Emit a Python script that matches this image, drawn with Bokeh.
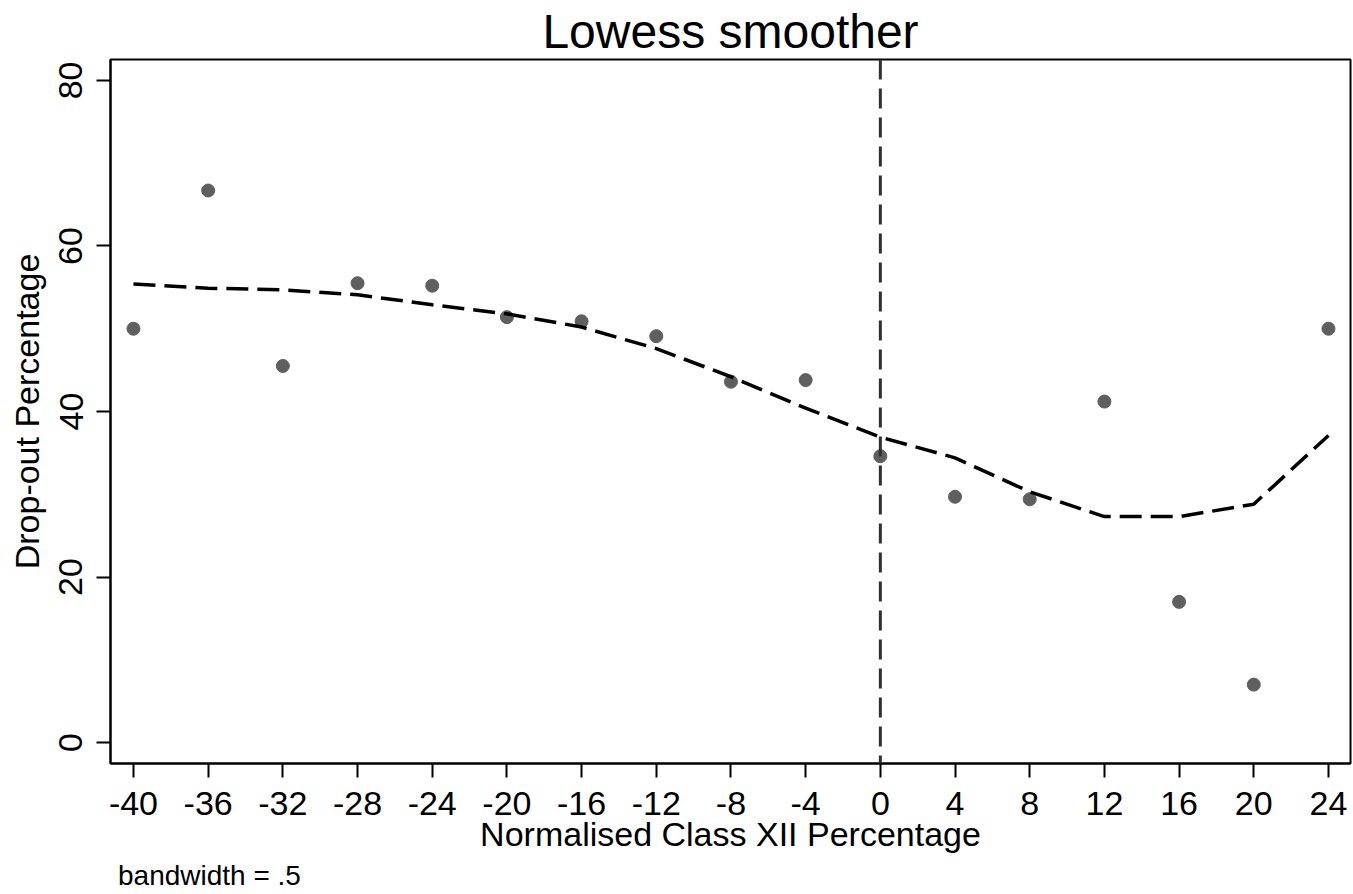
from bokeh.plotting import figure
from bokeh.layouts import column
from bokeh.models import Range1d, Span, Div, FixedTicker, CustomJSTickFormatter
from bokeh.embed import file_html
from bokeh.resources import INLINE

# Data
x_vals = [-40, -36, -32, -28, -24, -20, -16, -12, -8, -4, 0, 4, 8, 12, 16, 20, 24]
dropout = [50.0, 66.7, 45.5, 55.5, 55.2, 51.4, 50.9, 49.1, 43.6, 43.8,
           34.6, 29.7, 29.4, 41.2, 17.0, 7.0, 50.0]
lowess_fit = [55.4, 54.9, 54.7, 54.1, 52.9, 51.8, 50.2, 47.6, 44.2, 40.4,
              36.9, 34.4, 30.3, 27.3, 27.3, 28.8, 37.1]
x_ticks = [-40, -36, -32, -28, -24, -20, -16, -12, -8, -4, 0, 4, 8, 12, 16, 20, 24]
y_ticks = [0, 20, 40, 60, 80]
cutoff = 0
note_text = "bandwidth = .5"

FONT = "Liberation Sans"

p = figure(width=1353, height=870, output_backend="svg", toolbar_location=None,
           x_range=Range1d(-41.23, 25.18), y_range=Range1d(-2.53, 82.53),
           min_border_left=110, min_border_right=3, min_border_top=58,
           min_border_bottom=107)

p.title.text = "Lowess smoother"
p.title.align = "center"
p.title.text_font = FONT
p.title.text_font_size = "48px"
p.title.text_font_style = "normal"
p.title.text_color = "black"
p.title.standoff = 4

p.background_fill_color = "white"
p.border_fill_color = "white"
p.outline_line_color = "black"
p.outline_line_width = 2
p.xgrid.visible = False
p.ygrid.visible = False

p.scatter(x_vals, dropout, size=13, color="#5f5f5f", line_color="#5f5f5f")
p.line(x_vals, lowess_fit, line_color="black", line_width=3.5, line_dash="22 9")
p.add_layout(Span(location=cutoff, dimension="height", line_color="#303030",
                  line_width=3, line_dash="20 9"))

for ax, ticks in ((p.xaxis[0], x_ticks), (p.yaxis[0], y_ticks)):
    ax.ticker = FixedTicker(ticks=ticks)
    ax.formatter = CustomJSTickFormatter(code="return String(tick);")
    ax.minor_tick_line_color = None
    ax.major_tick_in = 0
    ax.major_tick_out = 14
    ax.major_tick_line_width = 2
    ax.major_tick_line_color = "black"
    ax.axis_line_color = "black"
    ax.axis_line_width = 2
    ax.major_label_text_font = FONT
    ax.major_label_text_font_size = "34px"
    ax.major_label_text_color = "black"
    ax.major_label_standoff = 14
    ax.axis_label_text_font = FONT
    ax.axis_label_text_font_size = "34px"
    ax.axis_label_text_font_style = "normal"
    ax.axis_label_text_color = "black"

p.xaxis[0].axis_label = "Normalised Class XII Percentage"
p.xaxis[0].axis_label_standoff = -3
p.yaxis[0].axis_label = "Drop-out Percentage"
p.yaxis[0].axis_label_standoff = 11
p.yaxis[0].major_label_orientation = "vertical"

note = Div(text=note_text, width=1353, height=24, margin=(0, 0, 0, 0),
           styles={"font-family": FONT, "font-size": "28px", "line-height": "12px",
                   "padding-left": "118px", "color": "black",
                   "background-color": "white", "white-space": "nowrap"})

layout = column(p, note, spacing=0)

open("out.html", "w").write(file_html(layout, INLINE))
